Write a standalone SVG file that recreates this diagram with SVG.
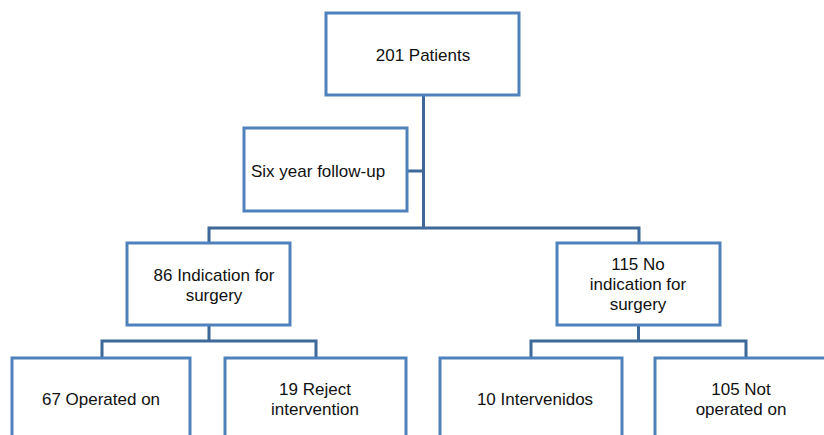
<svg xmlns="http://www.w3.org/2000/svg" width="824" height="435" viewBox="0 0 824 435">
<style>
.box{fill:#fff;stroke:#4f81bd;stroke-width:3}
.c{fill:none;stroke:#3d6898;stroke-width:3}
text{font-family:"Liberation Sans",Arial,sans-serif;font-size:17px;fill:#111}
.m{text-anchor:middle}
</style>
<rect width="824" height="435" fill="#fff"/>
<g id="connectors">
<path class="c" d="M423.5,95 V228 M407,171 H423.5 M209,242 V228 H639 V242"/>
<path class="c" d="M209,325 V341 M102,358 V341 H316 V358"/>
<path class="c" d="M638.5,325 V341 M531,358 V341 H746 V358"/>
</g>
<g id="n201"><rect class="box" x="326" y="13" width="193" height="82"/><text class="m" x="423" y="61">201 Patients</text></g>
<g id="followup"><rect class="box" x="244" y="128" width="163" height="83"/><text x="251" y="177">Six year follow-up</text></g>
<g id="n86"><rect class="box" x="127" y="243" width="163" height="82"/><text class="m" x="214" y="281">86 Indication for</text><text class="m" x="214" y="301">surgery</text></g>
<g id="n115"><rect class="box" x="557" y="243" width="163" height="82"/><text class="m" x="638" y="270">115 No</text><text class="m" x="638" y="290">indication for</text><text class="m" x="638" y="310">surgery</text></g>
<g id="n67"><rect class="box" x="12" y="358" width="178" height="90"/><text class="m" x="101" y="405">67 Operated on</text></g>
<g id="n19"><rect class="box" x="225" y="358" width="181" height="90"/><text class="m" x="315" y="395">19 Reject</text><text class="m" x="315" y="415">intervention</text></g>
<g id="n10"><rect class="box" x="440" y="358" width="182" height="90"/><text class="m" x="535" y="405">10 Intervenidos</text></g>
<g id="n105"><rect class="box" x="655" y="358" width="182" height="90"/><text class="m" x="741" y="395">105 Not</text><text class="m" x="741" y="415">operated on</text></g>
</svg>
